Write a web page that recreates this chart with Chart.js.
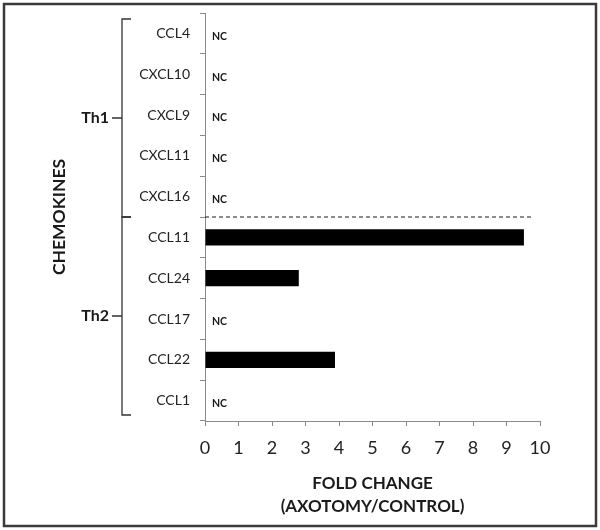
<!DOCTYPE html>
<html>
<head>
<meta charset="utf-8">
<script src="https://cdn.jsdelivr.net/npm/chart.js@4.4.1/dist/chart.umd.min.js"></script>
<style>
  html, body { margin: 0; padding: 0; background: #fff; }
  #wrap { width: 600px; height: 530px; position: relative; }
</style>
</head>
<body>
<div id="wrap"><canvas id="chart"></canvas></div>
<script>
// Chemokine fold change after axotomy, Th1 vs Th2 groups.
// null = no change (labelled "NC").

const CHEMOKINES = ['CCL4', 'CXCL10', 'CXCL9', 'CXCL11', 'CXCL16', 'CCL11', 'CCL24', 'CCL17', 'CCL22', 'CCL1'];
const FOLD_CHANGE = [null, null, null, null, null, 9.52, 2.8, null, 3.88, null];
const GROUP_LABELS = ['Th1', 'Th2'];
const GROUP_SIZES = [5, 5];
const X_TICKS = [0, 1, 2, 3, 4, 5, 6, 7, 8, 9, 10];

const FONT = 'Lato, "Open Sans", "DejaVu Sans", sans-serif';
const AXIS_GREY = '#8a8a8a';
const INK = '#1a1a1a';

// extras: frame, NC marks, dashed divider, group brackets
const annotations = {
  id: 'annotations',
  afterDraw(chart) {
    const { ctx, chartArea: area } = chart;
    const x = chart.scales.x;
    const y = chart.scales.y;
    const step = y.getPixelForValue(1) - y.getPixelForValue(0);

    ctx.save();

    // outer frame
    ctx.strokeStyle = '#3a3a3a';
    ctx.lineWidth = 2.5;
    ctx.strokeRect(4, 4, 592, 522);

    // NC labels
    ctx.fillStyle = INK;
    ctx.font = 'bold 10.5px ' + FONT;
    ctx.textAlign = 'left';
    ctx.textBaseline = 'middle';
    FOLD_CHANGE.forEach((v, i) => {
      if (v === null) ctx.fillText('NC', area.left + 7, y.getPixelForValue(i) + 3);
    });

    // dashed divider between groups
    const split = y.getPixelForValue(GROUP_SIZES[0] - 1) + step / 2;
    ctx.strokeStyle = INK;
    ctx.lineWidth = 1;
    ctx.setLineDash([4, 3]);
    ctx.beginPath();
    ctx.moveTo(area.left, split);
    ctx.lineTo(x.getPixelForValue(9.8), split);
    ctx.stroke();
    ctx.setLineDash([]);

    // brackets
    const bx = 122;
    let start = 0;
    GROUP_LABELS.forEach((label, g) => {
      const end = start + GROUP_SIZES[g] - 1;
      let top = y.getPixelForValue(start) - step / 2;
      let bot = y.getPixelForValue(end) + step / 2;
      if (g === 0) top += 6;
      if (g === GROUP_LABELS.length - 1) bot -= 6;
      ctx.strokeStyle = '#333';
      ctx.lineWidth = 1.3;
      ctx.beginPath();
      ctx.moveTo(bx + 9, top);
      ctx.lineTo(bx, top);
      ctx.lineTo(bx, bot);
      ctx.lineTo(bx + 9, bot);
      const mid = (top + bot) / 2;
      ctx.moveTo(bx - 10, mid);
      ctx.lineTo(bx, mid);
      ctx.stroke();

      ctx.fillStyle = INK;
      ctx.font = 'bold 16px ' + FONT;
      ctx.textAlign = 'right';
      ctx.fillText(label, bx - 13, mid);
      start = end + 1;
    });

    ctx.restore();
  }
};

new Chart(document.getElementById('chart'), {
  type: 'bar',
  data: {
    labels: CHEMOKINES,
    datasets: [{
      data: FOLD_CHANGE,
      backgroundColor: '#000',
      borderWidth: 0,
      barPercentage: 0.4,
      categoryPercentage: 1
    }]
  },
  options: {
    indexAxis: 'y',
    responsive: true,
    maintainAspectRatio: false,
    animation: false,
    layout: { padding: { top: 13, right: 60, bottom: 0, left: 0 } },
    plugins: {
      legend: { display: false },
      tooltip: { enabled: false }
    },
    scales: {
      x: {
        min: 0,
        max: 10,
        afterBuildTicks: (s) => { s.ticks = X_TICKS.map(v => ({ value: v })); },
        afterFit: (s) => { s.height = 109; },
        ticks: { color: '#222', font: { family: FONT, size: 18 }, padding: 11 },
        grid: { drawOnChartArea: false, tickLength: 5, color: AXIS_GREY },
        border: { color: AXIS_GREY },
        title: {
          display: true,
          text: ['FOLD CHANGE', '(AXOTOMY/CONTROL)'],
          color: INK,
          font: { family: FONT, size: 17, weight: 'bold', lineHeight: 1.41 },
          padding: { top: 0, bottom: 11 }
        }
      },
      y: {
        afterFit: (s) => { s.width = 205; s.paddingTop = 0; s.paddingBottom = 0; },
        ticks: { color: '#222', font: { family: FONT, size: 14 }, padding: 10 },
        grid: { drawOnChartArea: false, tickLength: 5, color: AXIS_GREY, offset: true },
        border: { color: AXIS_GREY },
        title: {
          display: true,
          text: 'CHEMOKINES',
          color: INK,
          font: { family: FONT, size: 17.5, weight: 'bold' },
          padding: { top: 49, bottom: 0 }
        }
      }
    }
  },
  plugins: [annotations]
});
</script>
</body>
</html>
